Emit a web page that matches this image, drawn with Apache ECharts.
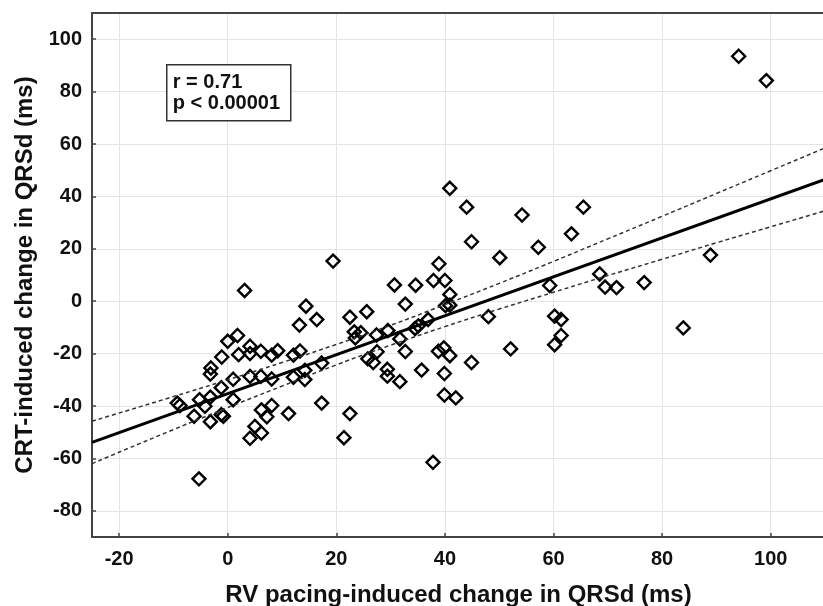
<!DOCTYPE html>
<html><head><meta charset="utf-8">
<script src="https://cdn.jsdelivr.net/npm/echarts@6/dist/echarts.min.js"></script>
<style>html,body{margin:0;padding:0;background:#fff}#c{width:823px;height:606px}</style>
</head><body><div id="c"></div>
<script>
// Tick labels
const xTicks = [-20, 0, 20, 40, 60, 80, 100];
const yTicks = [-80, -60, -40, -20, 0, 20, 40, 60, 80, 100];
const xAxisName = 'RV pacing-induced change in QRSd (ms)';
const yAxisName = 'CRT-induced change in QRSd (ms)';
const statLines = ['r = 0.71', 'p < 0.00001'];

// Scatter points
const pointsX = [3.1, 14.4, 16.4, 13.2, 22.5, 25.6, 23.3, 24.5, 23.5, 27.4, 29.5, 30.7, 32.7, 34.6, 31.7, 32.7, 31.7, 27.5, 25.8, 26.8,
  29.4, 29.4, 34.5, 35.1, 35.7, 1.8, 0.0, 4.1, 2.0, -1.1, 4.1, 6.1, 8.1, 9.2, 12.1, 13.3, 17.3, 14.2, 14.2, 12.1,
  17.3, 11.2, 22.5, 21.4, -3.1, -3.2, 1.0, 4.1, 6.1, -1.2, 8.1, -3.2, -5.2, -4.2, 1.0, -9.3, -8.8, -6.2, -3.2, -1.2,
  -0.8, 6.2, 7.2, 8.1, 5.0, 6.2, 4.1, -5.3, 37.9, 40.0, 40.9, 40.1, 40.9, 36.9, 38.8, 39.8, 40.9, 39.9, 44.9, 39.9,
  42.0, 48.0, 52.1, 59.3, 60.2, 61.4, 61.4, 60.2, 69.5, 71.6, 76.7, 83.9, 37.8, 40.9, 44.0, 44.9, 54.2, 50.1, 57.2, 63.3,
  65.5, 38.9, 68.5, 88.9, 94.1, 99.2, 19.4];
const pointsY = [4.1, -1.9, -7.0, -9.1, -6.1, -4.0, -11.7, -12.0, -14.0, -12.9, -11.2, 6.2, -1.1, 6.1, -14.4, -19.2, -30.7, -19.3, -22.0, -23.4,
  -26.0, -28.6, -10.4, -9.4, -26.3, -13.1, -15.3, -17.2, -20.4, -21.3, -20.0, -19.1, -20.6, -18.9, -20.6, -19.0, -23.6, -26.4, -29.9, -29.0,
  -38.9, -42.9, -42.9, -52.1, -25.5, -27.8, -29.8, -28.7, -28.7, -33.0, -29.7, -36.6, -37.6, -40.1, -37.6, -38.9, -39.8, -43.9, -46.0, -43.3,
  -43.9, -41.5, -44.1, -39.8, -47.8, -50.3, -52.3, -67.8, 7.9, 7.9, 2.6, -1.7, -1.5, -7.0, -19.1, -17.8, -20.8, -27.6, -23.4, -35.8,
  -36.9, -5.9, -18.2, 6.0, -5.7, -7.0, -13.1, -16.6, 5.4, 5.2, 7.1, -10.2, -61.5, 43.1, 35.9, 22.7, 32.9, 16.6, 20.6, 25.7,
  35.9, 14.3, 10.4, 17.6, 93.5, 84.2, 15.3];

// Regression line (end points)
const fitX = [-25, 110];
const fitY = [-53.9, 46.5];

// Confidence band
const bandX = [-25, -10, 0, 10, 20, 30, 40, 50, 60, 70, 80, 90, 100, 110];
const bandUpper = [-45.8, -36.4, -30.0, -23.4, -16.5, -9.2, -1.3, 6.8, 15.2, 23.8, 32.4, 41.1, 49.8, 58.5];
const bandLower = [-62.0, -49.0, -40.6, -32.4, -24.3, -16.8, -9.7, -3.0, 3.4, 9.8, 16.0, 22.3, 28.4, 34.5];

const zip = (a, b) => a.map((v, i) => [v, b[i]]);
const FONT = '"Liberation Sans", Arial, Helvetica, sans-serif';
const chart = echarts.init(document.getElementById('c'), null, {renderer: 'canvas'});
const axisLineStyle = {color: '#444', width: 2};
chart.setOption({
  animation: false,
  backgroundColor: '#fff',
  grid: {left: 92, right: -2, top: 13, bottom: 69, containLabel: false, outerBoundsMode: 'none'},
  xAxis: [{
    type: 'value', min: -25, max: 110,
    name: xAxisName, nameLocation: 'middle', nameGap: 46,
    nameTextStyle: {fontFamily: FONT, fontWeight: 'bold', fontSize: 24, color: '#111'},
    axisLine: {show: true, onZero: false, lineStyle: axisLineStyle},
    axisTick: {show: true, inside: true, length: 4, customValues: xTicks, lineStyle: {color: '#444', width: 1.5}},
    axisLabel: {customValues: xTicks, fontFamily: FONT, fontWeight: 'bold', fontSize: 20, color: '#111', margin: 12},
    splitLine: {show: true, lineStyle: {color: '#e4e4e4', width: 1}}
  }, {
    type: 'value', position: 'top', min: -25, max: 110,
    axisLine: {show: true, onZero: false, lineStyle: axisLineStyle},
    axisTick: {show: false}, axisLabel: {show: false}, splitLine: {show: false}
  }],
  yAxis: {
    type: 'value', min: -90, max: 110,
    name: yAxisName, nameLocation: 'middle', nameGap: 54, nameRotate: 90,
    nameTextStyle: {fontFamily: FONT, fontWeight: 'bold', fontSize: 24, color: '#111'},
    axisLine: {show: true, onZero: false, lineStyle: axisLineStyle},
    axisTick: {show: true, inside: true, length: 4, customValues: yTicks, lineStyle: {color: '#444', width: 1.5}},
    axisLabel: {customValues: yTicks, fontFamily: FONT, fontWeight: 'bold', fontSize: 20, color: '#111', margin: 10},
    splitLine: {show: true, lineStyle: {color: '#e4e4e4', width: 1}}
  },
  series: [
    {type: 'line', data: zip(bandX, bandUpper), smooth: true, symbol: 'none', silent: true,
      lineStyle: {color: '#333', width: 1.5, type: [4, 3]}},
    {type: 'line', data: zip(bandX, bandLower), smooth: true, symbol: 'none', silent: true,
      lineStyle: {color: '#333', width: 1.5, type: [4, 3]}},
    {type: 'line', data: zip(fitX, fitY), symbol: 'none', silent: true,
      lineStyle: {color: '#000', width: 3}},
    {type: 'scatter', data: zip(pointsX, pointsY), symbol: 'diamond', symbolSize: 13,
      itemStyle: {color: 'rgba(255,255,255,0)', borderColor: '#000', borderWidth: 2.4, opacity: 1}}
  ],
  graphic: [{
    type: 'group', left: 166, top: 64, z: 100,
    children: [
      {type: 'rect', shape: {x: 0, y: 0, width: 124, height: 56}, z: 100,
        style: {fill: '#fff', stroke: '#333', lineWidth: 1.5}},
      {type: 'text', x: 6, y: 7, z: 101,
        style: {text: statLines.join('\n'), fontFamily: FONT, fontWeight: 'bold', fontSize: 20, lineHeight: 21, fill: '#111'}}
    ]
  }]
});
</script>
</body></html>
